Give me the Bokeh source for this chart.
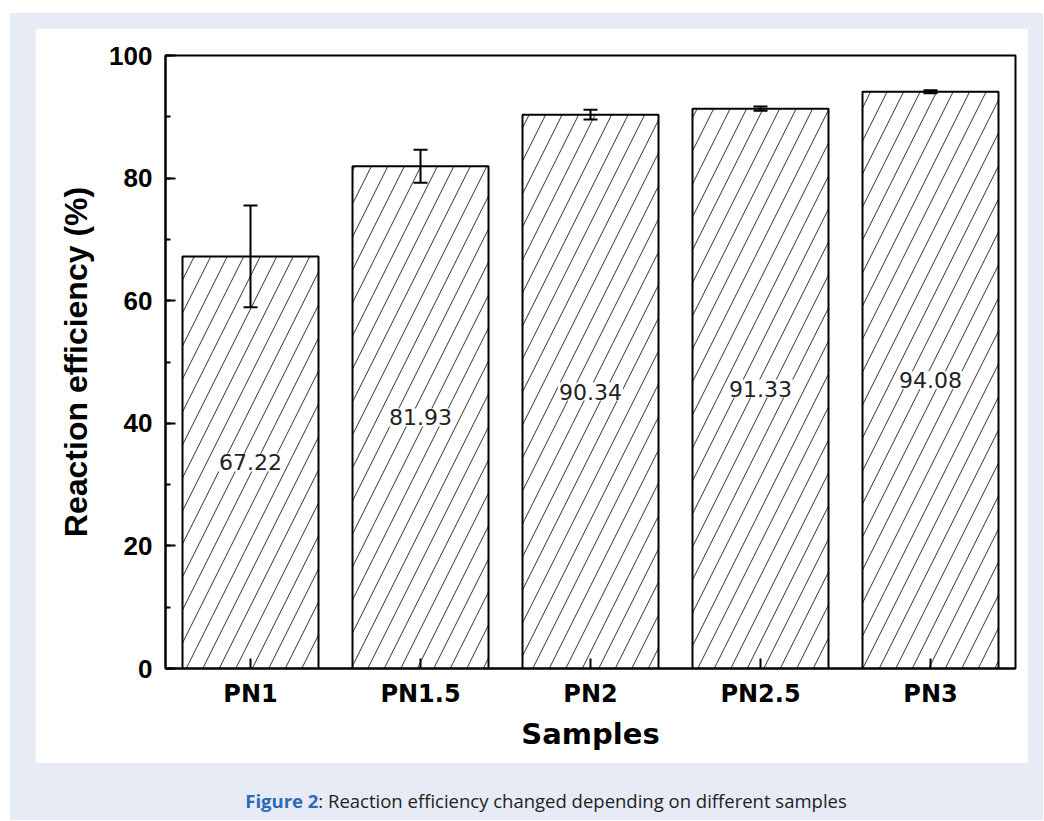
from bokeh.plotting import figure
from bokeh.models import ColumnDataSource, Whisker, TeeHead, Range1d, SingleIntervalTicker, Div
from bokeh.layouts import column
from bokeh.core.properties import value
from bokeh.embed import file_html
from bokeh.resources import INLINE

samples = ["PN1", "PN1.5", "PN2", "PN2.5", "PN3"]
efficiency = [67.22, 81.93, 90.34, 91.33, 94.08]
errors = [8.3, 2.7, 0.8, 0.35, 0.25]
labels = ["67.22", "81.93", "90.34", "91.33", "94.08"]

src = ColumnDataSource(dict(
    cat=samples,
    val=efficiency,
    mid=[v / 2 for v in efficiency],
    lab=labels,
    upper=[v + e for v, e in zip(efficiency, errors)],
    lower=[v - e for v, e in zip(efficiency, errors)],
))

p = figure(x_range=samples, y_range=Range1d(0, 100), width=993, height=735,
           output_backend="svg", toolbar_location=None,
           min_border_left=130, min_border_right=13, min_border_top=27, min_border_bottom=95,
           margin=(15, 15, 0, 25))
p.background_fill_color = "white"
p.border_fill_color = "white"
p.outline_line_color = "black"
p.outline_line_width = 2
p.xgrid.visible = False
p.ygrid.visible = False

p.vbar(x="cat", top="val", width=0.8, source=src, fill_color="white",
       line_color="black", line_width=2, hatch_pattern="/", hatch_scale=33,
       hatch_color="#333333", hatch_weight=1)

p.text(x="cat", y="mid", text="lab", source=src, text_font=value("DejaVu Sans"),
       text_font_size=value("22px"), text_color="#222222", text_align="center",
       text_baseline="middle", background_fill_color="white", padding=1)

w = Whisker(base="cat", upper="upper", lower="lower", source=src,
            line_color="black", line_width=2, level="overlay",
            upper_head=TeeHead(size=14, line_width=2, line_color="black"),
            lower_head=TeeHead(size=14, line_width=2, line_color="black"))
p.add_layout(w)

p.yaxis.ticker = SingleIntervalTicker(interval=20, num_minor_ticks=2)
for ax in (p.xaxis[0], p.yaxis[0]):
    ax.axis_line_width = 2
    ax.major_tick_line_width = 2
    ax.minor_tick_line_width = 2
    ax.major_tick_in = 10
    ax.major_tick_out = 0
    ax.minor_tick_in = 5
    ax.minor_tick_out = 0
    ax.major_label_text_color = "black"
    ax.axis_label_text_color = "black"
    ax.axis_label_text_font_style = "bold"
    ax.major_label_text_font_style = "bold"

p.yaxis.major_label_text_font = "Liberation Sans"
p.yaxis.major_label_text_font_size = "26px"
p.yaxis.major_label_standoff = 13
p.yaxis.axis_label = "Reaction efficiency (%)"
p.yaxis.axis_label_text_font = "Liberation Sans"
p.yaxis.axis_label_text_font_size = "32px"
p.yaxis.axis_label_standoff = 12

p.xaxis.major_label_text_font = "DejaVu Sans"
p.xaxis.major_label_text_font_size = "24px"
p.xaxis.major_label_standoff = 11
p.xaxis.axis_label = "Samples"
p.xaxis.axis_label_text_font = "DejaVu Sans"
p.xaxis.axis_label_text_font_size = "29px"
p.xaxis.axis_label_standoff = 6

caption = Div(
    text='<div style="width:993px;text-align:center;padding-top:26px;padding-left:79px;'
         'font-family:\'Open Sans\';font-size:18.5px;color:#222;line-height:23px">'
         '<span style="color:#2b6cb6;font-weight:bold">Figure 2</span>: '
         'Reaction efficiency changed depending on different samples</div>',
    width=1033, height=57, margin=(0, 0, 0, 0))

layout = column(p, caption, margin=(13, 0, 0, 10),
                styles={"background-color": "#e7ebf5"})

open("out.html", "w").write(file_html(layout, INLINE))
